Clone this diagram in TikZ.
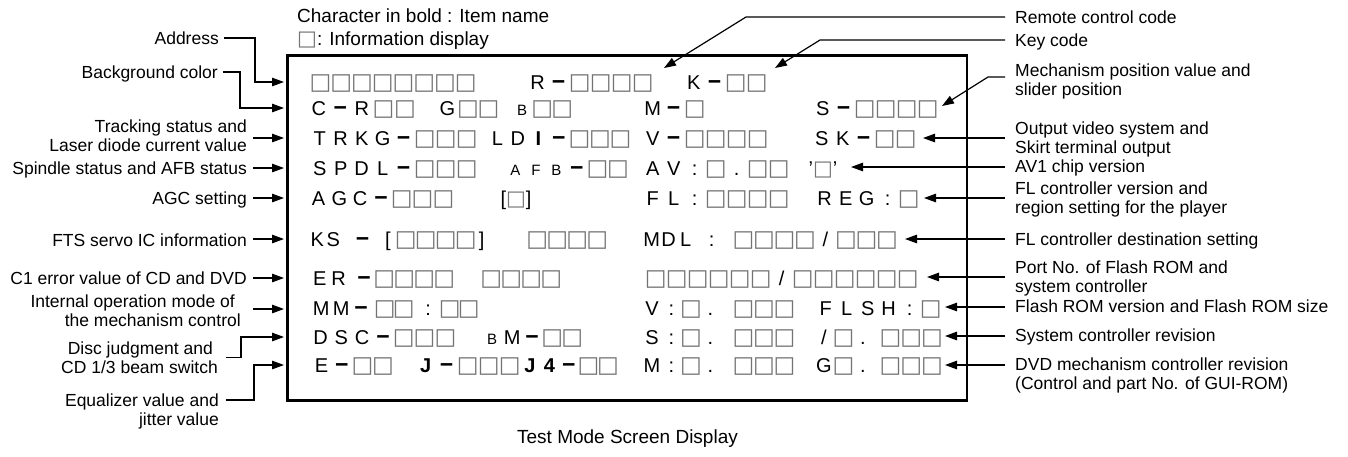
\documentclass[tikz,border=0pt]{standalone}
\usepackage{fontspec}
\setmainfont{Liberation Sans}
\newfontfamily\dejavu{DejaVu Sans}
\usetikzlibrary{arrows.meta}
\definecolor{sqc}{gray}{0.45}
\newcommand\lblfont{\fontsize{17.5pt}{19pt}\selectfont}
\newcommand\ttlfont{\fontsize{19pt}{23pt}\selectfont}
\newcommand\scrfont{\fontsize{20pt}{24pt}\selectfont}
\newcommand\sq{{\dejavu\fontsize{23pt}{23pt}\selectfont\color{sqc}□}}
\newcommand\tsq{{\dejavu\fontsize{21pt}{21pt}\selectfont\color{sqc}□}}
\newcommand\dsh{{\fontsize{23pt}{23pt}\selectfont\bfseries −}}
\newcommand\smc[1]{{\fontsize{15pt}{15pt}\selectfont #1}}
\ExplSyntaxOn
\NewDocumentCommand\cells{mm}{\tl_map_inline:nn{#2}{\makebox[#1][c]{##1}}}
\ExplSyntaxOff
\begin{document}
\begin{tikzpicture}[x=1pt,y=-1pt,
  lbl/.style={font=\lblfont, inner sep=0pt},
  lbll/.style={lbl, anchor=base east},
  lblr/.style={lbl, anchor=base west},
  scr/.style={font=\scrfont, inner sep=0pt, anchor=base west},
  ln/.style={line width=1.2pt},
  arr/.style={ln, -{Triangle[length=12pt,width=8.5pt]}},
  frame/.style={line width=2.8pt}]
\useasboundingbox (0,0) rectangle (1348,456);
% title
\node[anchor=base west, font=\ttlfont, inner sep=0pt] (title1) at (297,22) {Character in bold : Item name};
\node[anchor=base west, font=\ttlfont, inner sep=0pt] (title2) at (297,45) {\tsq: Information display};
% frame
\draw[frame] (287.5,55.5) rectangle (967,400.5);
% screen rows
\node[scr] (r1a) at (310,89) {\cells{20.75pt}{\sq\sq\sq\sq\sq\sq\sq\sq}};
\node[scr] (r1b) at (527,89) {\cells{21pt}{R\dsh\sq\sq\sq\sq}};
\node[scr] (r1c) at (683,89) {\cells{21pt}{K\dsh\sq\sq}};
\node[scr] (r2a) at (308,115) {\cells{21.5pt}{C\dsh R\sq\sq}};
\node[scr] (r2b) at (437,115) {\cells{20.5pt}{G\sq\sq}};
\node[scr] (r2c) at (512,115) {\cells{20pt}{{\smc{B}}\sq\sq}};
\node[scr] (r2d) at (642,115) {\cells{21pt}{M\dsh\sq}};
\node[scr] (r2e) at (812,115) {\cells{21pt}{S\dsh\sq\sq\sq\sq}};
\node[scr] (r3a) at (309,145) {\cells{21pt}{TRKG\dsh\sq\sq\sq}};
\node[scr] (r3b) at (487,145) {\cells{20.5pt}{LD{\bfseries I}\dsh\sq\sq\sq}};
\node[scr] (r3c) at (642,145) {\cells{21pt}{V\dsh\sq\sq\sq\sq}};
\node[scr] (r3d) at (811,145) {\cells{21pt}{SK\dsh\sq\sq}};
\node[scr] (r4a) at (309,175) {\cells{21pt}{SPDL\dsh\sq\sq\sq}};
\node[scr] (r4b) at (505,175) {\cells{20.5pt}{{\smc{A}}{\smc{F}}{\smc{B}}\dsh\sq\sq}};
\node[scr] (r4c) at (642,175) {\cells{21pt}{AV:\sq.\sq\sq}};
\node[scr, anchor=base] (r4d) at (823,175) {’\tsq’};
\node[scr] (r5a) at (308,205) {\cells{20.8pt}{AGC\dsh\sq\sq\sq}};
\node[scr, anchor=base] (r5b) at (516,205) {[\tsq]};
\node[scr] (r5c) at (642,205) {\cells{21pt}{FL:\sq\sq\sq\sq}};
\node[scr] (r5d) at (814,205) {\cells{21pt}{REG:\sq}};
\node[scr] (r6a) at (309,246) {\cells{16pt}{KS}};
\node[scr] (r6b) at (355,246) {\cells{15pt}{\dsh}};
\node[scr] (r6c) at (385,246) {[\hspace{5pt}\cells{20pt}{\sq\sq\sq\sq}\hspace{3pt}]};
\node[scr] (r6d) at (527,246) {\cells{20pt}{\sq\sq\sq\sq}};
\node[scr] (r6e) at (643,246) {\cells{17pt}{MDL}};
\node[scr] (r6f) at (704,246) {\cells{15pt}{:}};
\node[scr] (r6g) at (733,246) {\cells{20.5pt}{\sq\sq\sq\sq/\sq\sq\sq}};
\node[scr] (r7a) at (310,285) {\cells{19pt}{ER}};
\node[scr] (r7b) at (354,285) {\cells{20pt}{\dsh\sq\sq\sq\sq}};
\node[scr] (r7c) at (481,285) {\cells{20pt}{\sq\sq\sq\sq}};
\node[scr] (r7d) at (645,285) {\cells{21pt}{\sq\sq\sq\sq\sq\sq/\sq\sq\sq\sq\sq\sq}};
\node[scr] (r8a) at (311,315) {\cells{20pt}{MM\dsh}};
\node[scr] (r8b) at (375,315) {\cells{19pt}{\sq\sq}};
\node[scr] (r8c) at (421,315) {\cells{14pt}{:}};
\node[scr] (r8d) at (440,315) {\cells{19pt}{\sq\sq}};
\node[scr] (r8e) at (642,315) {\cells{19.5pt}{V:\sq.}};
\node[scr] (r8f) at (733,315) {\cells{20.5pt}{\sq\sq\sq}};
\node[scr] (r8g) at (815,315) {\cells{21pt}{FLSH:\sq}};
\node[scr] (r9a) at (310,344) {\cells{20.8pt}{DSC\dsh\sq\sq\sq}};
\node[scr] (r9b) at (482,344) {\cells{20pt}{{\smc{B}}M\dsh\sq\sq}};
\node[scr] (r9c) at (642,344) {\cells{19.5pt}{S:\sq.}};
\node[scr] (r9d) at (733,344) {\cells{20.5pt}{\sq\sq\sq}};
\node[scr] (r9e) at (814,344) {\cells{19.5pt}{/\sq.}};
\node[scr] (r9f) at (880,344) {\cells{20.7pt}{\sq\sq\sq}};
\node[scr] (r10a) at (311,372) {\cells{20.5pt}{E\dsh\sq\sq}};
\node[scr] (r10b) at (415,372) {\cells{21pt}{{\bfseries J}\dsh\sq\sq\sq}};
\node[scr] (r10c) at (520,372) {\cells{19.5pt}{{\bfseries J}{\bfseries 4}\dsh\sq\sq}};
\node[scr] (r10d) at (642,372) {\cells{19.5pt}{M:\sq.}};
\node[scr] (r10e) at (733,372) {\cells{20.5pt}{\sq\sq\sq}};
\node[scr] (r10f) at (814,372) {\cells{19.5pt}{G\sq.}};
\node[scr] (r10g) at (880,372) {\cells{20.7pt}{\sq\sq\sq}};
% left labels
\node[lbll] (lAddr) at (219,44.3) {Address};
\node[lbll] (lBg) at (218,78.3) {Background color};
\node[lbll] (lTrk) at (247,132.3) {\begin{tabular}[t]{@{}r@{}}Tracking status and\\Laser diode current value\end{tabular}};
\node[lbll] (lSpd) at (247,174.3) {Spindle status and AFB status};
\node[lbll] (lAgc) at (247,204.3) {AGC setting};
\node[lbll] (lFts) at (247,246.3) {FTS servo IC information};
\node[lbll] (lC1) at (247,284.3) {C1 error value of CD and DVD};
\node[lbll] (lInt) at (241,307.3) {\begin{tabular}[t]{@{}r@{}}Internal operation mode of\hspace*{6pt}\\the mechanism control\end{tabular}};
\node[lbll] (lDisc) at (218,354.3) {\begin{tabular}[t]{@{}r@{}}Disc judgment and\hspace*{5pt}\\CD 1/3 beam switch\end{tabular}};
\node[lbll] (lEq) at (219,406.3) {\begin{tabular}[t]{@{}r@{}}Equalizer value and\\jitter value\end{tabular}};
% left tips and bends
\coordinate (tAddr) at (284,82);
\coordinate (bAddr) at (255,82);
\coordinate (tBg) at (284,108);
\coordinate (bBg) at (240,108);
\coordinate (tTrk) at (284,138);
\coordinate (tSpd) at (284,168);
\coordinate (tAgc) at (284,198);
\coordinate (tFts) at (284,239);
\coordinate (tC1) at (284,278);
\coordinate (tInt) at (284,309);
\coordinate (tDisc) at (284,337);
\coordinate (bDisc) at (241,337);
\coordinate (tEq) at (284,365);
\coordinate (bEq) at (254,365);
\draw[arr, shorten <=5pt] ([yshift=6.3pt]lAddr.base east) -| (bAddr) -- (tAddr);
\draw[arr, shorten <=5pt] ([yshift=6.3pt]lBg.base east) -| (bBg) -- (tBg);
\draw[arr, shorten <=6pt] (lTrk.east |- tTrk) -- (tTrk);
\draw[arr, shorten <=6pt] (lSpd.east |- tSpd) -- (tSpd);
\draw[arr, shorten <=6pt] (lAgc.east |- tAgc) -- (tAgc);
\draw[arr, shorten <=6pt] (lFts.east |- tFts) -- (tFts);
\draw[arr, shorten <=6pt] (lC1.east |- tC1) -- (tC1);
\draw[arr, shorten <=12pt] (lInt.east |- tInt) -- (tInt);
\draw[arr, shorten <=8pt] ([yshift=-3.2pt]lDisc.base east) -| (bDisc) -- (tDisc);
\draw[arr, shorten <=7pt] ([yshift=6.3pt]lEq.base east) -| (bEq) -- (tEq);
% right labels
\node[lblr] (rRem) at (1015,23.3) {Remote control code};
\node[lblr] (rKey) at (1015,46.3) {Key code};
\node[lblr] (rMech) at (1015,76.3) {\begin{tabular}[t]{@{}l@{}}Mechanism position value and\\slider position\end{tabular}};
\node[lblr] (rOut) at (1015,134.3) {\begin{tabular}[t]{@{}l@{}}Output video system and\\Skirt terminal output\end{tabular}};
\node[lblr] (rAv) at (1015,172.3) {AV1 chip version};
\node[lblr] (rFl) at (1015,194.3) {\begin{tabular}[t]{@{}l@{}}FL controller version and\\region setting for the player\end{tabular}};
\node[lblr] (rMdl) at (1015,245.3) {FL controller destination setting};
\node[lblr] (rPort) at (1015,273.3) {\begin{tabular}[t]{@{}l@{}}Port No. of Flash ROM and\\system controller\end{tabular}};
\node[lblr] (rFlash) at (1015,312.3) {Flash ROM version and Flash ROM size};
\node[lblr] (rSys) at (1015,341.8) {System controller revision};
\node[lblr] (rDvd) at (1015,370.8) {\begin{tabular}[t]{@{}l@{}}DVD mechanism controller revision\\(Control and part No. of GUI-ROM)\end{tabular}};
% right tips and bends
\coordinate (tRem) at (664,68);
\coordinate (bRem) at (746,17);
\coordinate (tKey) at (775,68);
\coordinate (bKey) at (820,40);
\coordinate (tMech) at (942,106);
\coordinate (bMech) at (988,77);
\coordinate (tOut) at (923,138);
\coordinate (tAv) at (851,167);
\coordinate (tFl) at (924,198);
\coordinate (tMdl) at (905,239);
\coordinate (tPort) at (927,277);
\coordinate (tFlash) at (945,307);
\coordinate (tSys) at (945,336);
\coordinate (tDvd) at (945,365);
\draw[arr, shorten <=10pt] (rRem.west |- bRem) -- (bRem) -- (tRem);
\draw[arr, shorten <=10pt] (rKey.west |- bKey) -- (bKey) -- (tKey);
\draw[arr, shorten <=10pt] (rMech.west |- bMech) -- (bMech) -- (tMech);
\draw[arr, shorten <=10pt] (rOut.west |- tOut) -- (tOut);
\draw[arr, shorten <=10pt] (rAv.west |- tAv) -- (tAv);
\draw[arr, shorten <=10pt] (rFl.west |- tFl) -- (tFl);
\draw[arr, shorten <=10pt] (rMdl.west |- tMdl) -- (tMdl);
\draw[arr, shorten <=10pt] (rPort.west |- tPort) -- (tPort);
\draw[arr, shorten <=10pt] (rFlash.west |- tFlash) -- (tFlash);
\draw[arr, shorten <=10pt] (rSys.west |- tSys) -- (tSys);
\draw[arr, shorten <=10pt] (rDvd.west |- tDvd) -- (tDvd);
% caption
\node[anchor=base, font=\ttlfont, inner sep=0pt] (caption) at (627.5,443) {Test Mode Screen Display};
\end{tikzpicture}
\end{document}
